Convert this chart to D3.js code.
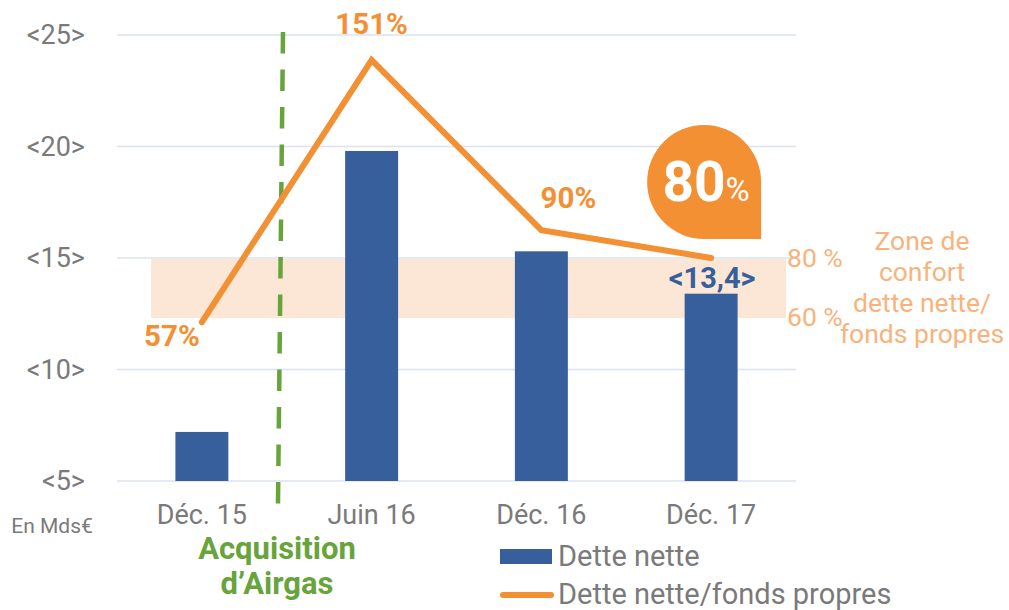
<!DOCTYPE html>
<html>
<head>
<meta charset="utf-8">
<script src="https://cdn.jsdelivr.net/npm/d3@7"></script>
<style>
  body { margin: 0; background: #fff; }
  text { font-family: Roboto, "Open Sans", sans-serif; }
</style>
</head>
<body>
<div id="viz"></div>
<script>
const categories = ['Déc. 15', 'Juin 16', 'Déc. 16', 'Déc. 17'];
const netDebt = [7.2, 19.8, 15.3, 13.4];          // Mds€
const debtRatio = [57, 151, 90, 80];              // dette nette / fonds propres, %
const ratioLabels = ['57%', '151%', '90%', ''];
const yTicks = [5, 10, 15, 20, 25];
const comfortZone = [12.3, 15];                   // shaded band, read on the Mds€ axis
const comfortLabels = ['60 %', '80 %'];
const zoneText = ['Zone de', 'confort', 'dette nette/', 'fonds propres'];

const width = 1009, height = 610;
const blue = '#365f9c', orange = '#f39033', peach = '#f8b37d', green = '#67a43b', grey = '#7a7a7a';

const svg = d3.select('#viz')
      .append('svg')
      .attr('width', width)
      .attr('height', height);

const x = d3.scaleBand()
      .domain(categories)
      .range([117, 796])
      .paddingInner(0.688)
      .paddingOuter(0.344);

const y = d3.scaleLinear()
      .domain([5, 25])
      .range([481, 35]);

// secondary scale for the ratio line (not drawn as an axis)
const y2 = d3.scaleLinear()
      .domain([0, 160])
      .range([481, 35]);

const cx = d => x(d) + x.bandwidth() / 2;

// comfort band
svg.append('rect')
  .attr('x', 151)
  .attr('y', y(comfortZone[1]) + 1)
  .attr('width', 786 - 151)
  .attr('height', y(comfortZone[0]) - y(comfortZone[1]) - 1)
  .attr('fill', '#fce6d5');

// grid lines
svg.append('g').selectAll('line')
  .data(yTicks)
  .enter()
  .append('line')
  .attr('x1', 117)
  .attr('x2', 796)
  .attr('y1', d => y(d))
  .attr('y2', d => y(d))
  .attr('stroke', '#dae2f2')
  .attr('stroke-width', 1.6);

// y tick labels
svg.append('g').selectAll('text')
  .data(yTicks)
  .enter()
  .append('text')
  .attr('x', 85)
  .attr('y', d => y(d))
  .attr('dy', '0.35em')
  .attr('text-anchor', 'end')
  .attr('font-size', 27)
  .attr('fill', grey)
  .text(d => '<' + d + '>');

svg.append('text')
  .attr('x', 52)
  .attr('y', 533)
  .attr('text-anchor', 'middle')
  .attr('font-size', 21)
  .attr('fill', grey)
  .text('En Mds€');

// category labels
svg.append('g').selectAll('text')
  .data(categories)
  .enter()
  .append('text')
  .attr('x', d => cx(d))
  .attr('y', 524)
  .attr('text-anchor', 'middle')
  .attr('font-size', 27)
  .attr('fill', grey)
  .text(d => d);

// bars
svg.append('g').selectAll('rect')
  .data(netDebt)
  .enter()
  .append('rect')
  .attr('x', (d, i) => x(categories[i]))
  .attr('y', d => y(d))
  .attr('width', x.bandwidth())
  .attr('height', d => y(5) - y(d))
  .attr('fill', blue);

// acquisition marker
const step = x.step();
svg.append('line')
  .attr('x1', cx(categories[0]) + step * 0.478)
  .attr('x2', cx(categories[0]) + step * 0.448)
  .attr('y1', 32)
  .attr('y2', 510)
  .attr('stroke', green)
  .attr('stroke-width', 4.5)
  .attr('stroke-dasharray', '21.5 16');

svg.append('g').selectAll('text')
  .data(['Acquisition', 'd’Airgas'])
  .enter()
  .append('text')
  .attr('x', 277)
  .attr('y', (d, i) => 559 + i * 35)
  .attr('text-anchor', 'middle')
  .attr('font-size', 31)
  .attr('font-weight', 'bold')
  .attr('fill', green)
  .text(d => d);

// ratio line
const line = d3.line()
      .x((d, i) => cx(categories[i]))
      .y(d => y2(d));

svg.append('path')
  .datum(debtRatio)
  .attr('d', line)
  .attr('fill', 'none')
  .attr('stroke', orange)
  .attr('stroke-width', 6)
  .attr('stroke-linejoin', 'miter')
  .attr('stroke-linecap', 'round');

// ratio labels (offsets to the text baseline)
const labelOffset = [[-30, 24], [0, -26], [27, -22], [0, 0]];
svg.append('g').selectAll('text')
  .data(ratioLabels)
  .enter()
  .append('text')
  .attr('x', (d, i) => cx(categories[i]) + labelOffset[i][0])
  .attr('y', (d, i) => y2(debtRatio[i]) + labelOffset[i][1])
  .attr('text-anchor', 'middle')
  .attr('font-size', 29.5)
  .attr('font-weight', 'bold')
  .attr('fill', orange)
  .text(d => d);

// last debt value label
const last = categories.length - 1;
svg.append('text')
  .attr('x', cx(categories[last]) + 1)
  .attr('y', y(netDebt[last]) - 6)
  .attr('text-anchor', 'middle')
  .attr('font-size', 29)
  .attr('font-weight', 'bold')
  .attr('fill', blue)
  .text('<' + String(netDebt[last]).replace('.', ',') + '>');

// 80% bubble (teardrop pointing to bottom right)
const bx = cx(categories[last]) - 7, by = y2(debtRatio[last]) - 76, r = 57;
svg.append('path')
  .attr('d', `M${bx + r},${by} L${bx + r},${by + r} L${bx},${by + r} A${r},${r} 0 1 1 ${bx + r},${by} Z`)
  .attr('fill', orange);

const bubbleText = svg.append('text')
  .attr('x', bx + 2)
  .attr('y', by + 19)
  .attr('text-anchor', 'middle')
  .attr('fill', '#fff');
bubbleText.append('tspan')
  .attr('font-size', 55)
  .attr('font-weight', 'bold')
  .text(debtRatio[last]);
bubbleText.append('tspan')
  .attr('font-size', 33)
  .text('%');

// comfort zone annotations
svg.append('g').selectAll('text')
  .data(comfortLabels)
  .enter()
  .append('text')
  .attr('x', 787)
  .attr('y', (d, i) => y(comfortZone[i]) + (i === 0 ? -1 : 0))
  .attr('dy', '0.35em')
  .attr('font-size', 26.5)
  .attr('fill', peach)
  .text(d => d);

svg.append('g').selectAll('text')
  .data(zoneText)
  .enter()
  .append('text')
  .attr('x', 922)
  .attr('y', (d, i) => 250 + i * 31)
  .attr('text-anchor', 'middle')
  .attr('font-size', 26.5)
  .attr('fill', peach)
  .text(d => d);

// legend
const legend = svg.append('g');
legend.append('rect')
  .attr('x', 500)
  .attr('y', 549)
  .attr('width', 52)
  .attr('height', 15)
  .attr('fill', blue);
legend.append('line')
  .attr('x1', 503)
  .attr('x2', 551)
  .attr('y1', 595)
  .attr('y2', 595)
  .attr('stroke', orange)
  .attr('stroke-width', 6)
  .attr('stroke-linecap', 'round');
legend.selectAll('text')
  .data(['Dette nette', 'Dette nette/fonds propres'])
  .enter()
  .append('text')
  .attr('x', 558)
  .attr('y', (d, i) => 566 + i * 38)
  .attr('font-size', 29)
  .attr('fill', grey)
  .text(d => d);
</script>
</body>
</html>
